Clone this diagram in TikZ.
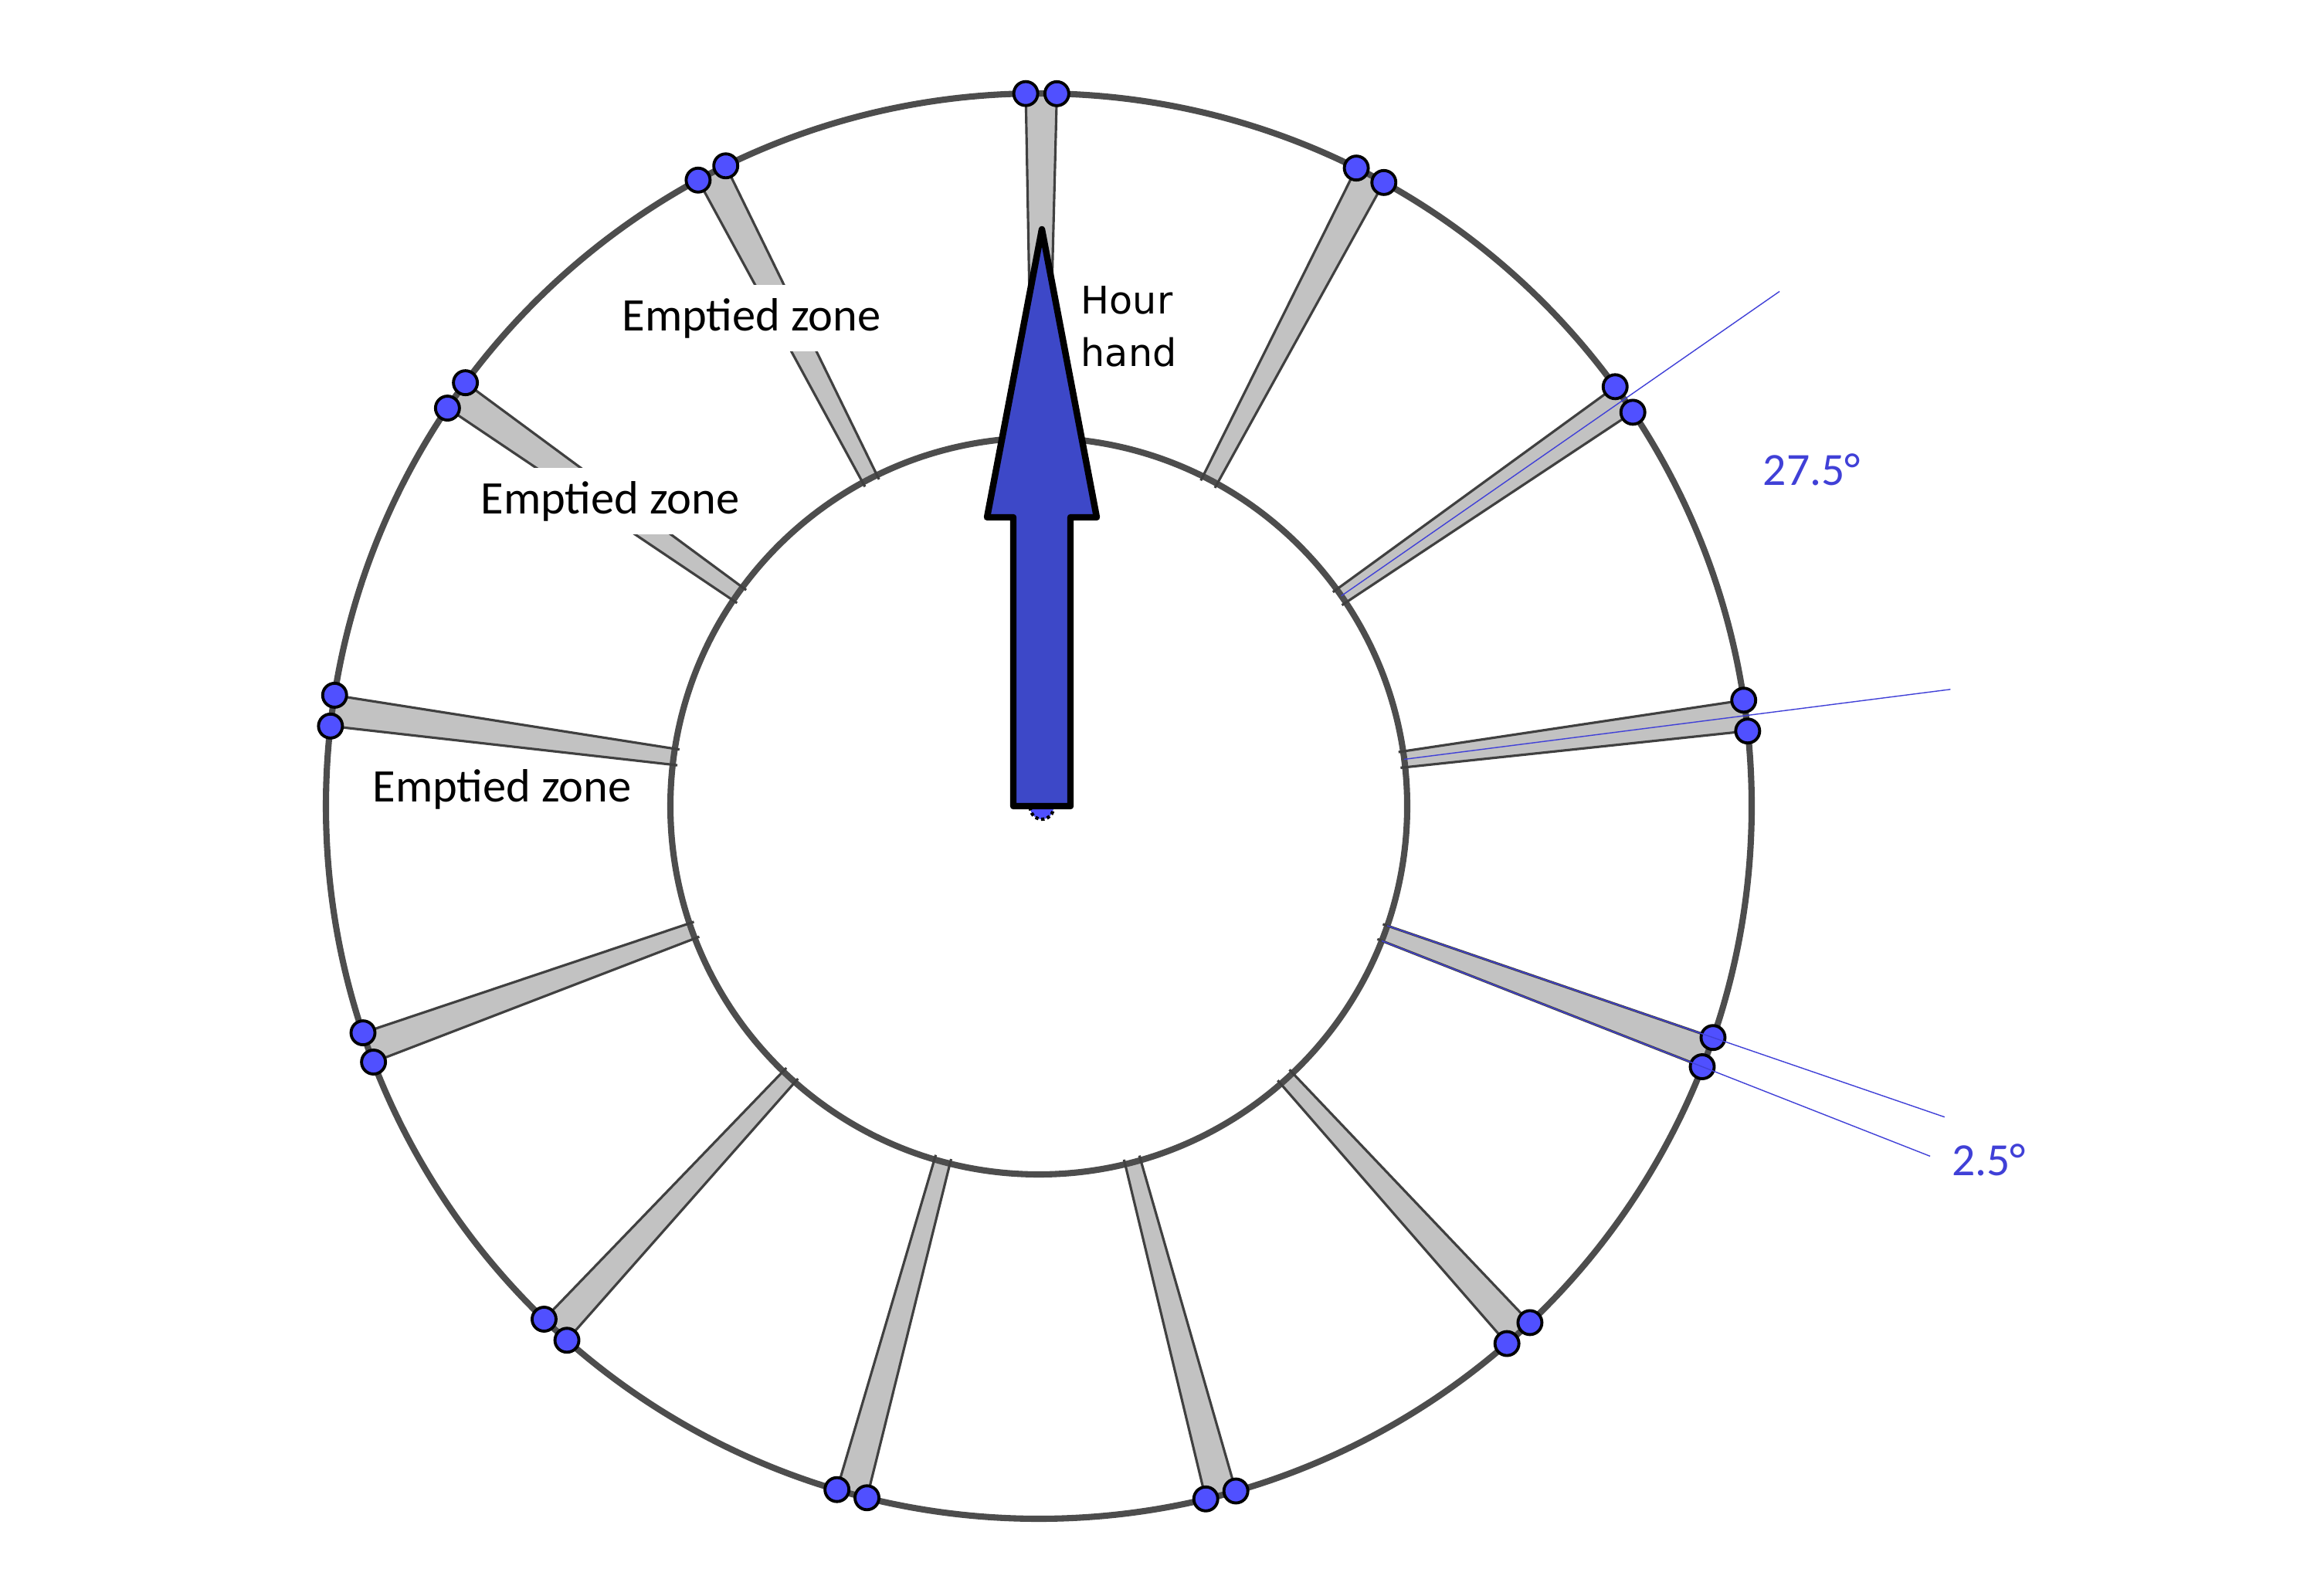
\documentclass[tikz,border=0pt]{standalone}
\usepackage{fontspec}
\usepackage{tikz}
\usetikzlibrary{positioning}
\newfontfamily\zonefont{Carlito}
\newfontfamily\handfont{DejaVu Sans}
\definecolor{cdial}{RGB}{77,77,77}
\definecolor{cslot}{RGB}{194,194,194}
\definecolor{cedge}{RGB}{64,64,64}
\definecolor{cpeg}{RGB}{80,80,255}
\definecolor{chand}{RGB}{61,72,200}
\definecolor{cguide}{RGB}{64,64,215}
\tikzset{
  dial/.style={draw=cdial, line width=2.3pt},
  slot/.style={fill=cslot},
  slotedge/.style={draw=cedge, line width=0.9pt},
  peg/.style={circle, draw=black, fill=cpeg, line width=1.1pt, minimum size=0.31cm, inner sep=0pt},
  guide/.style={draw=cguide, line width=0.4pt},
  zone/.style={font=\zonefont\fontsize{17.2}{20}\selectfont, fill=white, inner xsep=3pt, inner ysep=5pt},
  anglabel/.style={font=\zonefont\fontsize{17}{20}\selectfont, text=cguide, inner sep=0pt},
  handshape/.style={fill=chand, draw=black, line width=2.4pt, line join=round},
}

\begin{document}
\begin{tikzpicture}[x=1cm, y=1cm]
\useasboundingbox (0,0) rectangle (30,20.66);
\begin{scope}[shift={(13.45,10.22)}]
\def\rin{4.77}\def\rout{9.23}\def\rtick{4.71}
\def\slots{89.8,62.3,34.8,7.3,-20.2,-47.7,-75.2,-105.2,-132.7,-160.2,-187.7,-215.2,-242.7}

% emptied slots, 2.5 degrees wide
\foreach \c in \slots
  \fill[slot] (\c-1.25:\rin) -- (\c-1.25:\rout) -- (\c+1.25:\rout) -- (\c+1.25:\rin) -- cycle;
\draw[dial] (0,0) circle (\rin);
\draw[dial] (0,0) circle (\rout);
\foreach \c in \slots {
  \draw[slotedge] (\c-1.25:\rtick) -- (\c-1.25:\rout);
  \draw[slotedge] (\c+1.25:\rtick) -- (\c+1.25:\rout);
}

% hour hand
\draw[fill=cpeg, draw=black, line width=1.2pt, densely dotted] (0.04,-0.02) circle (0.15);
\draw[handshape] (-0.33,0) -- (-0.33,3.74) -- (-0.67,3.74) -- (0.04,7.47)
  -- (0.75,3.74) -- (0.41,3.74) -- (0.41,0) -- cycle;
\node[font=\handfont\fontsize{14}{19.5}\selectfont, align=left, anchor=west, inner sep=0pt]
  (hand) at (0.54,6.21) {Hour\\hand};

% pegs on the outer ring
\foreach \c [count=\k] in \slots {
  \node[peg] (pa\k) at (\c-1.25:\rout) {};
  \node[peg] (pb\k) at (\c+1.25:\rout) {};
}

% angle guides
\draw[guide] (34.8:\rin) -- (34.8:11.68);
\draw[guide] (7.3:\rin) -- (7.3:11.9);
\draw[guide] (-18.95:\rin) -- (-18.95:12.4);
\draw[guide] (-21.45:\rin) -- (-21.45:12.4);
\node[anglabel] (gap) at (10.01,4.36) {27.5°};
\node[anglabel] (width) at (12.30,-4.58) {2.5°};

\node[zone] (z1) at (-3.72,6.32) {Emptied zone};
\node[zone] (z2) at (-5.55,3.95) {Emptied zone};
\node[zone, inner ysep=1pt] (z3) at (-6.95,0.22) {Emptied zone};
\end{scope}
\end{tikzpicture}
\end{document}
